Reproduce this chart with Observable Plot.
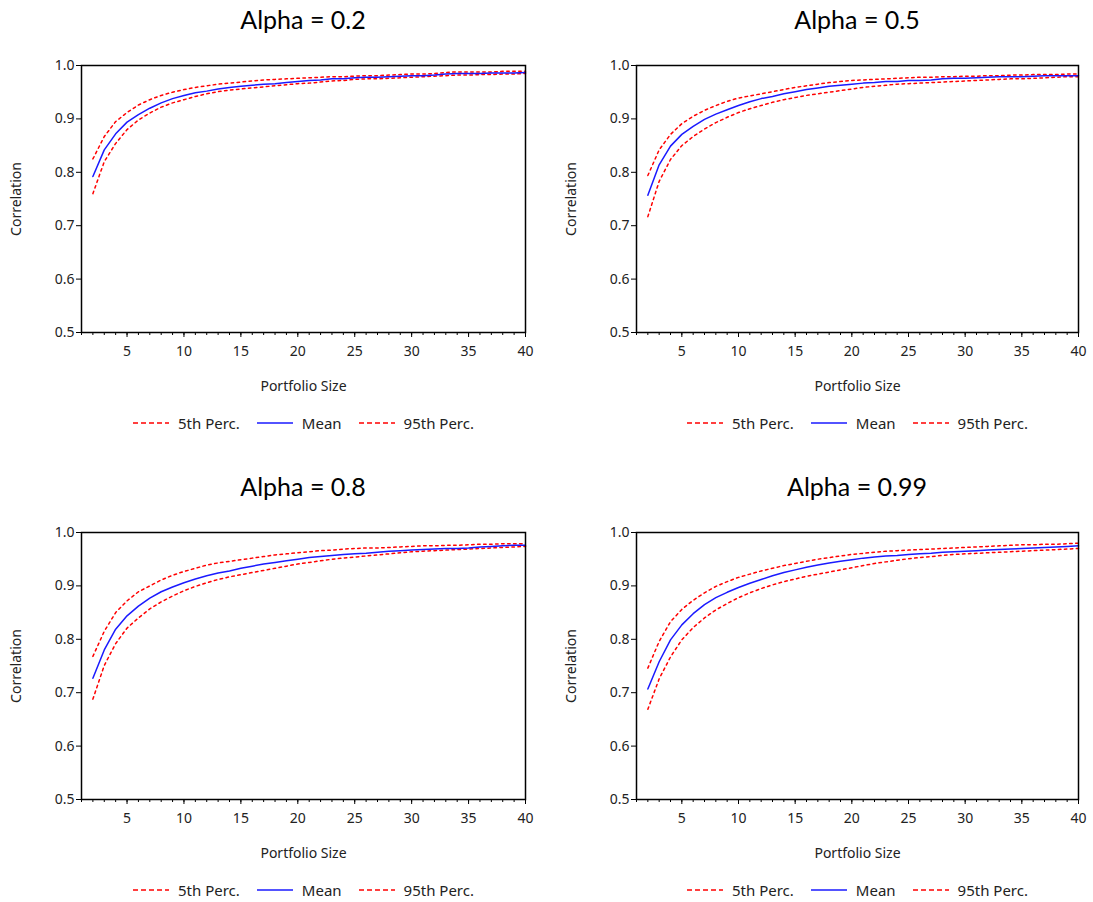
<!DOCTYPE html>
<html>
<head>
<meta charset="utf-8">
<script src="https://cdn.jsdelivr.net/npm/d3@7"></script>
<script src="https://cdn.jsdelivr.net/npm/@observablehq/plot@0.6"></script>
<style>
  html, body { margin: 0; padding: 0; background: #fff; overflow: hidden; }
  #root { position: relative; width: 1093px; height: 902px; background: #fff; }
  .panel { position: absolute; }
  .title { position: absolute; top: 4px; font-family: "Lato", "Open Sans", sans-serif; font-size: 25px; color: #000; text-align: center; width: 300px; }
  .plot { position: absolute; top: 50px; left: 0; }
  .legend { position: absolute; top: 413px; display: flex; align-items: center; font-family: "Noto Sans", sans-serif; font-size: 15px; color: #222; white-space: nowrap; }
  .legend .item { display: flex; align-items: center; margin-right: 16px; }
  .legend svg { margin-right: 8px; }
</style>
</head>
<body>
<div id="root"></div>
<script>
// ---- Data ----
const portfolioSize = [2,3,4,5,6,7,8,9,10,11,12,13,14,15,16,17,18,19,20,21,22,23,24,25,26,27,28,29,30,31,32,33,34,35,36,37,38,39,40];

const titles = ["Alpha = 0.2", "Alpha = 0.5", "Alpha = 0.8", "Alpha = 0.99"];
const seriesNames = ["5th Perc.", "Mean", "95th Perc."];
const xTicks = [5, 10, 15, 20, 25, 30, 35, 40];
const yTicks = [0.5, 0.6, 0.7, 0.8, 0.9, 1.0];

// Alpha = 0.2
const a02_p5   = [0.760,0.820,0.854,0.880,0.898,0.911,0.922,0.930,0.936,0.942,0.947,0.951,0.954,0.956,0.958,0.960,0.962,0.964,0.966,0.967,0.969,0.971,0.972,0.974,0.975,0.975,0.976,0.977,0.978,0.979,0.980,0.981,0.982,0.982,0.983,0.983,0.984,0.984,0.985];
const a02_mean = [0.792,0.842,0.872,0.894,0.908,0.920,0.930,0.938,0.944,0.949,0.952,0.956,0.959,0.961,0.963,0.965,0.966,0.968,0.970,0.972,0.973,0.975,0.975,0.977,0.978,0.978,0.979,0.980,0.981,0.981,0.982,0.984,0.985,0.985,0.985,0.986,0.986,0.986,0.987];
const a02_p95  = [0.825,0.867,0.895,0.912,0.926,0.936,0.944,0.950,0.955,0.959,0.962,0.965,0.967,0.969,0.971,0.973,0.974,0.975,0.976,0.977,0.978,0.979,0.979,0.980,0.981,0.981,0.982,0.983,0.984,0.984,0.985,0.987,0.988,0.988,0.988,0.988,0.989,0.989,0.989];

// Alpha = 0.5
const a05_p5   = [0.717,0.783,0.824,0.850,0.867,0.881,0.893,0.903,0.912,0.919,0.925,0.931,0.936,0.940,0.944,0.947,0.950,0.953,0.956,0.959,0.961,0.963,0.965,0.966,0.967,0.968,0.969,0.970,0.971,0.972,0.973,0.974,0.975,0.975,0.976,0.977,0.978,0.979,0.979];
const a05_mean = [0.757,0.814,0.849,0.871,0.886,0.899,0.909,0.917,0.925,0.932,0.938,0.942,0.947,0.951,0.955,0.958,0.961,0.963,0.965,0.967,0.968,0.970,0.970,0.972,0.972,0.973,0.975,0.976,0.976,0.977,0.978,0.979,0.979,0.979,0.980,0.981,0.981,0.981,0.981];
const a05_p95  = [0.794,0.842,0.871,0.891,0.905,0.916,0.925,0.933,0.939,0.943,0.947,0.951,0.955,0.959,0.962,0.965,0.968,0.970,0.972,0.973,0.974,0.975,0.976,0.977,0.978,0.978,0.979,0.979,0.980,0.980,0.981,0.981,0.982,0.982,0.983,0.983,0.983,0.984,0.984];

// Alpha = 0.8
const a08_p5   = [0.688,0.751,0.792,0.821,0.840,0.857,0.870,0.881,0.891,0.899,0.906,0.912,0.917,0.921,0.925,0.929,0.933,0.937,0.941,0.944,0.947,0.950,0.952,0.954,0.956,0.958,0.960,0.962,0.964,0.965,0.966,0.967,0.968,0.969,0.970,0.971,0.972,0.973,0.974];
const a08_mean = [0.727,0.780,0.819,0.844,0.862,0.877,0.889,0.898,0.906,0.913,0.919,0.924,0.928,0.933,0.937,0.941,0.944,0.947,0.950,0.953,0.955,0.957,0.959,0.960,0.961,0.963,0.965,0.966,0.967,0.968,0.969,0.970,0.970,0.971,0.973,0.974,0.975,0.976,0.976];
const a08_p95  = [0.768,0.815,0.850,0.872,0.889,0.900,0.911,0.920,0.927,0.933,0.939,0.943,0.946,0.949,0.952,0.955,0.958,0.960,0.962,0.964,0.966,0.967,0.969,0.970,0.971,0.971,0.972,0.973,0.974,0.975,0.975,0.976,0.976,0.977,0.978,0.978,0.979,0.979,0.979];

// Alpha = 0.99
const a099_p5   = [0.669,0.726,0.767,0.799,0.822,0.840,0.855,0.867,0.878,0.887,0.895,0.902,0.908,0.913,0.918,0.922,0.926,0.930,0.934,0.938,0.942,0.945,0.948,0.951,0.953,0.955,0.957,0.959,0.960,0.961,0.962,0.963,0.964,0.965,0.966,0.967,0.968,0.969,0.970];
const a099_mean = [0.707,0.758,0.799,0.827,0.848,0.865,0.878,0.888,0.897,0.905,0.912,0.919,0.925,0.930,0.935,0.939,0.943,0.946,0.949,0.952,0.954,0.956,0.957,0.959,0.960,0.961,0.963,0.964,0.965,0.966,0.967,0.968,0.969,0.970,0.971,0.972,0.973,0.974,0.975];
const a099_p95  = [0.746,0.796,0.833,0.856,0.873,0.887,0.899,0.908,0.916,0.922,0.928,0.933,0.938,0.942,0.946,0.950,0.953,0.956,0.959,0.961,0.963,0.965,0.966,0.967,0.968,0.969,0.970,0.971,0.972,0.973,0.974,0.975,0.976,0.977,0.977,0.978,0.978,0.979,0.980];

const panelSeries = [
  [a02_p5, a02_mean, a02_p95],
  [a05_p5, a05_mean, a05_p95],
  [a08_p5, a08_mean, a08_p95],
  [a099_p5, a099_mean, a099_p95]
];

// ---- Styles ----
const RED = "#ff0000", BLUE = "#1a1aff";
const styles = [
  {stroke: RED, dash: "2.5,3.5", width: 1.5},
  {stroke: BLUE, dash: null, width: 1.5},
  {stroke: RED, dash: "2.5,3.5", width: 1.5}
];

const layout = [
  {left: 0, top: 0, width: 546, mr: 21},
  {left: 555, top: 0, width: 538, mr: 15},
  {left: 0, top: 467, width: 546, mr: 21},
  {left: 555, top: 467, width: 538, mr: 15}
];
const ML = 81, MT = 15, MB = 65, H = 347;

const root = document.getElementById("root");
const minorTicks = d3.range(1, 41);

panelSeries.forEach((series, i) => {
  const L = layout[i];
  const panel = document.createElement("div");
  panel.className = "panel";
  panel.style.left = L.left + "px";
  panel.style.top = L.top + "px";
  panel.style.width = L.width + "px";
  panel.style.height = "440px";
  const cx = ML + (L.width - ML - L.mr) / 2;

  const title = document.createElement("div");
  title.className = "title";
  title.textContent = titles[i];
  title.style.left = (cx - 150) + "px";
  panel.appendChild(title);

  const rows = [];
  series.forEach((vals, s) => {
    vals.forEach((v, k) => rows.push({size: portfolioSize[k], value: v, series: seriesNames[s], s}));
  });

  const lineMarks = [0, 2, 1].map(s => Plot.line(rows.filter(d => d.s === s), {
    x: "size", y: "value",
    stroke: styles[s].stroke,
    strokeWidth: styles[s].width,
    strokeDasharray: styles[s].dash || undefined
  }));

  const chart = Plot.plot({
    width: L.width,
    height: H,
    marginLeft: ML,
    marginRight: L.mr,
    marginTop: MT,
    marginBottom: MB,
    x: {domain: [1, 40]},
    y: {domain: [0.5, 1.0]},
    style: {fontFamily: "'Noto Sans', sans-serif", fontSize: "14px", color: "#222", background: "#fff"},
    marks: [
      Plot.axisX(minorTicks, {tickSize: 3, tickFormat: () => "", label: null, stroke: "#000"}),
      Plot.axisX(xTicks, {tickSize: 5, tickPadding: 9, label: "Portfolio Size", labelAnchor: "center", labelArrow: "none", labelOffset: 58, stroke: "#000", fill: "#222"}),
      Plot.axisY(yTicks, {tickSize: 5, tickPadding: 2, tickFormat: ".1f", label: "Correlation", labelAnchor: "center", labelArrow: "none", labelOffset: 70, stroke: "#000", fill: "#222"}),
      ...lineMarks,
      Plot.frame({stroke: "#000", strokeWidth: 1.5})
    ]
  });
  const plotDiv = document.createElement("div");
  plotDiv.className = "plot";
  plotDiv.appendChild(chart);
  panel.appendChild(plotDiv);

  // legend
  const legend = document.createElement("div");
  legend.className = "legend";
  seriesNames.forEach((name, s) => {
    const item = document.createElement("div");
    item.className = "item";
    const st = styles[s];
    item.innerHTML = `<svg width="38" height="10"><line x1="1" y1="5" x2="37" y2="5" stroke="${st.stroke}" stroke-width="1.4" ${st.dash ? `stroke-dasharray="5,3"` : ""}/></svg><span>${name}</span>`;
    legend.appendChild(item);
  });
  panel.appendChild(legend);
  root.appendChild(panel);
  const lw = legend.getBoundingClientRect().width;
  legend.style.left = (cx - lw / 2 + 8) + "px";
});
</script>
</body>
</html>
